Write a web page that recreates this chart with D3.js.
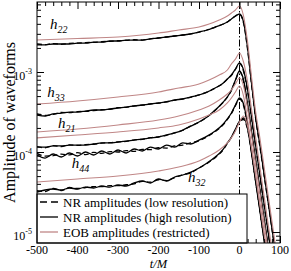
<!DOCTYPE html>
<html>
<head>
<meta charset="utf-8">
<script src="https://cdn.jsdelivr.net/npm/d3@7"></script>
<style>
  body { margin: 0; background: #fff; }
  text { font-family: "Liberation Serif", "Times New Roman", serif; fill: #000; }
</style>
</head>
<body>
<svg id="chart" width="291" height="271"></svg>
<script>
// time samples (t/M)
const tEOB = [-500, -400, -300, -200, -150, -100, -75, -50, -30, -20, -10, 0, 10, 20, 30, 40, 50, 60, 70, 80, 90];
const tNR = [-500, -480, -460, -440, -420, -400, -380, -360, -340, -320, -300, -280, -260, -240, -220, -200,
  -180, -160, -140, -120, -100, -80, -60, -40, -30, -20, -10, 0, 10, 20, 30, 40, 50, 60, 70, 80, 90];

// EOB amplitudes (restricted)
const eob22 = [2.51e-3, 2.62e-3, 2.74e-3, 3.07e-3, 3.35e-3, 3.65e-3, 3.98e-3, 4.47e-3, 5.01e-3, 5.46e-3, 5.96e-3, 6.68e-3, 5.01e-3, 2.37e-3, 8.4e-4, 3.16e-4, 1.54e-4, 6.9e-5, 3.07e-5, 1.37e-5, 6.1e-6];
const eob33 = [3.98e-4, 4.34e-4, 4.87e-4, 5.62e-4, 6.31e-4, 7.08e-4, 7.94e-4, 9.17e-4, 1.06e-3, 1.26e-3, 1.45e-3, 1.73e-3, 1.33e-3, 7.5e-4, 3.35e-4, 1.5e-4, 6.68e-5, 2.99e-5, 1.33e-5, 5.96e-6, 2.66e-6];
const eob21 = [1.78e-4, 1.94e-4, 2.18e-4, 2.51e-4, 2.82e-4, 3.35e-4, 3.76e-4, 4.47e-4, 5.31e-4, 5.96e-4, 7.08e-4, 8.41e-4, 6.68e-4, 3.55e-4, 1.58e-4, 7.08e-5, 3.16e-5, 1.41e-5, 6.31e-6, 2.82e-6, 1.26e-6];
const eob44 = [1.5e-4, 1.63e-4, 1.78e-4, 2.0e-4, 2.18e-4, 2.59e-4, 2.9e-4, 3.35e-4, 4.1e-4, 4.73e-4, 5.62e-4, 6.68e-4, 5.01e-4, 2.51e-4, 1.12e-4, 5.01e-5, 2.24e-5, 1.0e-5, 4.47e-6, 2.0e-6, 8.9e-7];
const eob32 = [4.22e-5, 4.6e-5, 5.01e-5, 5.79e-5, 6.49e-5, 7.72e-5, 8.91e-5, 1.06e-4, 1.3e-4, 1.5e-4, 1.83e-4, 2.37e-4, 2.82e-4, 2.11e-4, 1.12e-4, 5.31e-5, 2.37e-5, 1.06e-5, 4.73e-6, 2.11e-6, 9.4e-7];

// NR amplitudes (high resolution)
const hi22 = [2.18e-3, 2.18e-3, 2.24e-3, 2.24e-3, 2.24e-3, 2.3e-3, 2.3e-3, 2.37e-3, 2.37e-3, 2.44e-3, 2.44e-3, 2.51e-3, 2.51e-3, 2.51e-3, 2.59e-3, 2.66e-3, 2.74e-3, 2.82e-3, 2.9e-3, 2.99e-3, 3.16e-3, 3.35e-3, 3.65e-3, 3.98e-3, 4.22e-3, 4.6e-3, 5.01e-3, 5.31e-3, 4.22e-3, 2.0e-3, 7.08e-4, 2.66e-4, 1.26e-4, 5.62e-5, 2.51e-5, 1.12e-5, 5.01e-6];
const hi33 = [2.9e-4, 2.82e-4, 2.99e-4, 3.07e-4, 3.16e-4, 3.16e-4, 3.25e-4, 3.35e-4, 3.35e-4, 3.45e-4, 3.55e-4, 3.65e-4, 3.76e-4, 3.87e-4, 3.98e-4, 4.1e-4, 4.22e-4, 4.47e-4, 4.6e-4, 4.87e-4, 5.16e-4, 5.62e-4, 6.31e-4, 7.29e-4, 8.18e-4, 9.17e-4, 1.09e-3, 1.3e-3, 1.06e-3, 5.96e-4, 2.66e-4, 1.19e-4, 5.31e-5, 2.37e-5, 1.06e-5, 4.73e-6, 2.11e-6];
const hi21 = [1.15e-4, 1.15e-4, 1.19e-4, 1.19e-4, 1.22e-4, 1.22e-4, 1.22e-4, 1.26e-4, 1.3e-4, 1.3e-4, 1.33e-4, 1.37e-4, 1.41e-4, 1.45e-4, 1.5e-4, 1.54e-4, 1.63e-4, 1.73e-4, 1.88e-4, 2.11e-4, 2.37e-4, 2.74e-4, 3.35e-4, 4.22e-4, 4.87e-4, 5.96e-4, 7.94e-4, 1.03e-3, 7.94e-4, 3.98e-4, 1.78e-4, 7.94e-5, 3.55e-5, 1.58e-5, 7.08e-6, 3.16e-6, 1.41e-6];
const hi44 = [9.17e-5, 8.41e-5, 9.44e-5, 8.66e-5, 9.72e-5, 8.91e-5, 1.0e-4, 9.17e-5, 1.03e-4, 9.44e-5, 1.06e-4, 9.72e-5, 1.09e-4, 1.03e-4, 1.15e-4, 1.09e-4, 1.22e-4, 1.15e-4, 1.3e-4, 1.26e-4, 1.41e-4, 1.58e-4, 1.83e-4, 2.24e-4, 2.59e-4, 3.07e-4, 3.87e-4, 4.73e-4, 3.98e-4, 2.24e-4, 1.0e-4, 4.47e-5, 2.0e-5, 8.91e-6, 3.98e-6, 1.78e-6, 7.94e-7];
const hi32 = [3.16e-5, 3.35e-5, 3.45e-5, 3.35e-5, 3.55e-5, 3.45e-5, 3.65e-5, 3.55e-5, 3.76e-5, 3.65e-5, 3.87e-5, 3.76e-5, 4.1e-5, 4.34e-5, 4.1e-5, 4.6e-5, 4.34e-5, 4.87e-5, 5.16e-5, 5.62e-5, 6.31e-5, 7.29e-5, 8.66e-5, 1.09e-4, 1.3e-4, 1.54e-4, 1.94e-4, 2.44e-4, 2.66e-4, 2.0e-4, 1.0e-4, 4.47e-5, 2.0e-5, 8.91e-6, 3.98e-6, 1.78e-6, 7.94e-7];

// NR amplitudes (low resolution)
const lo22 = [2.24e-3, 2.2e-3, 2.27e-3, 2.22e-3, 2.28e-3, 2.3e-3, 2.33e-3, 2.35e-3, 2.39e-3, 2.42e-3, 2.46e-3, 2.49e-3, 2.53e-3, 2.51e-3, 2.6e-3, 2.66e-3, 2.74e-3, 2.82e-3, 2.9e-3, 2.99e-3, 3.16e-3, 3.35e-3, 3.65e-3, 3.98e-3, 4.22e-3, 4.6e-3, 5.01e-3, 5.25e-3, 4.1e-3, 1.9e-3, 6.8e-4, 2.6e-4, 1.2e-4, 5.4e-5, 2.5e-5, 1.1e-5, 5.0e-6];
const lo33 = [3.0e-4, 2.86e-4, 2.95e-4, 3.12e-4, 3.1e-4, 3.2e-4, 3.22e-4, 3.3e-4, 3.38e-4, 3.42e-4, 3.58e-4, 3.62e-4, 3.78e-4, 3.85e-4, 4.0e-4, 4.08e-4, 4.25e-4, 4.45e-4, 4.62e-4, 4.85e-4, 5.18e-4, 5.6e-4, 6.3e-4, 7.25e-4, 8.15e-4, 9.1e-4, 1.08e-3, 1.28e-3, 1.02e-3, 5.7e-4, 2.55e-4, 1.15e-4, 5.1e-5, 2.3e-5, 1.03e-5, 4.6e-6, 2.0e-6];
const lo21 = [1.17e-4, 1.13e-4, 1.2e-4, 1.17e-4, 1.23e-4, 1.21e-4, 1.24e-4, 1.25e-4, 1.29e-4, 1.31e-4, 1.34e-4, 1.36e-4, 1.42e-4, 1.44e-4, 1.51e-4, 1.55e-4, 1.62e-4, 1.74e-4, 1.87e-4, 2.12e-4, 2.36e-4, 2.75e-4, 3.33e-4, 4.2e-4, 4.85e-4, 5.9e-4, 7.8e-4, 1.01e-3, 7.6e-4, 3.8e-4, 1.7e-4, 7.6e-5, 3.4e-5, 1.5e-5, 6.8e-6, 3.0e-6, 1.35e-6];
const lo44 = [9.6e-5, 8.9e-5, 9.0e-5, 9.4e-5, 9.2e-5, 9.8e-5, 9.3e-5, 9.9e-5, 9.6e-5, 1.01e-4, 1.0e-4, 1.04e-4, 1.02e-4, 1.08e-4, 1.07e-4, 1.13e-4, 1.12e-4, 1.19e-4, 1.22e-4, 1.3e-4, 1.38e-4, 1.55e-4, 1.8e-4, 2.2e-4, 2.55e-4, 3.02e-4, 3.8e-4, 4.6e-4, 3.8e-4, 2.1e-4, 9.5e-5, 4.2e-5, 1.9e-5, 8.5e-6, 3.8e-6, 1.7e-6, 7.6e-7];
const lo32 = [3.3e-5, 3.2e-5, 3.5e-5, 3.3e-5, 3.6e-5, 3.5e-5, 3.6e-5, 3.7e-5, 3.7e-5, 3.8e-5, 3.8e-5, 3.9e-5, 4.0e-5, 4.3e-5, 4.2e-5, 4.5e-5, 4.4e-5, 4.8e-5, 5.2e-5, 5.5e-5, 6.3e-5, 7.2e-5, 8.5e-5, 1.07e-4, 1.28e-4, 1.52e-4, 1.9e-4, 2.4e-4, 2.55e-4, 1.9e-4, 9.4e-5, 4.2e-5, 1.9e-5, 8.4e-6, 3.8e-6, 1.7e-6, 7.5e-7];

const modes = ["22", "33", "21", "44", "32"];
// where each h_lm label sits, in data coordinates [t, amplitude]
const modeLabelAt = [[-468, 3.45e-3], [-475, 4.87e-4], [-448, 2.0e-4], [-414, 6.31e-5], [-127, 4.22e-5]];
const xTicks = [-500, -400, -300, -200, -100, 0, 100];
const yTicks = [1e-5, 1e-4, 1e-3];
const yExponents = ["-5", "-4", "-3"];
const legendLabels = ["NR amplitudes (low resolution)", "NR amplitudes (high resolution)", "EOB amplitudes (restricted)"];

const eobColor = "#c08787";
const margin = { top: 2, right: 11, bottom: 28, left: 37 };
const W = 291, H = 271;

const svg = d3.select("#chart");

const x = d3.scaleLinear().domain([-500, 100]).range([margin.left, W - margin.right]);
const y = d3.scaleLog().domain([7.29e-6, 7.5e-3]).range([H - margin.bottom, margin.top]);

svg.append("defs").append("clipPath").attr("id", "plotClip")
  .append("rect")
  .attr("x", margin.left).attr("y", margin.top)
  .attr("width", W - margin.left - margin.right)
  .attr("height", H - margin.top - margin.bottom);

const plot = svg.append("g").attr("clip-path", "url(#plotClip)");

const line = d3.line()
  .x(d => x(d[0]))
  .y(d => y(d[1]))
  .curve(d3.curveMonotoneX);

const zipT = (ts, vs) => ts.map((t, i) => [t, vs[i]]);

const loRes = [lo22, lo33, lo21, lo44, lo32];
const hiRes = [hi22, hi33, hi21, hi44, hi32];
const eobs = [eob22, eob33, eob21, eob44, eob32];

// peak marker t = 0
plot.append("line")
  .attr("x1", x(0)).attr("x2", x(0))
  .attr("y1", margin.top).attr("y2", H - margin.bottom)
  .attr("stroke", "#000")
  .attr("stroke-width", 1)
  .attr("stroke-dasharray", "7,2,1.5,2");

plot.append("g").selectAll("path")
  .data(loRes)
  .join("path")
  .attr("d", d => line(zipT(tNR, d)))
  .attr("fill", "none")
  .attr("stroke", "#000")
  .attr("stroke-width", 1.3)
  .attr("stroke-dasharray", "5,3");

plot.append("g").selectAll("path")
  .data(hiRes)
  .join("path")
  .attr("d", d => line(zipT(tNR, d)))
  .attr("fill", "none")
  .attr("stroke", "#000")
  .attr("stroke-width", 1.3);

plot.append("g").selectAll("path")
  .data(eobs)
  .join("path")
  .attr("d", d => line(zipT(tEOB, d)))
  .attr("fill", "none")
  .attr("stroke", eobColor)
  .attr("stroke-width", 1.1);

// mode labels
const lbl = svg.append("g").selectAll("text")
  .data(modes)
  .join("text")
  .attr("x", (d, i) => x(modeLabelAt[i][0]))
  .attr("y", (d, i) => y(modeLabelAt[i][1]))
  .attr("font-size", 15)
  .attr("font-style", "italic");
lbl.append("tspan").text("h");
lbl.append("tspan").attr("font-size", 10).attr("dy", 4).text(d => d);

// axes, ticks drawn inward on all four sides
const xMinor = d3.range(-500, 101, 20).filter(v => v % 100 !== 0);
const yMinor = y.ticks().filter(v => !yTicks.some(t => Math.abs(t - v) / t < 1e-6));
const plotBottom = H - margin.bottom, plotRight = W - margin.right;

function tickAxis(axisFn, scale, values, size, transform) {
  const g = svg.append("g")
    .attr("transform", transform)
    .call(axisFn(scale).tickValues(values).tickSize(-size).tickFormat(""));
  g.select(".domain").remove();
  g.selectAll("line").attr("stroke", "#000");
  return g;
}
tickAxis(d3.axisBottom, x, xTicks, 7, "translate(0," + plotBottom + ")");
tickAxis(d3.axisBottom, x, xMinor, 4, "translate(0," + plotBottom + ")");
tickAxis(d3.axisTop, x, xTicks, 7, "translate(0," + margin.top + ")");
tickAxis(d3.axisTop, x, xMinor, 4, "translate(0," + margin.top + ")");
tickAxis(d3.axisLeft, y, yTicks, 7, "translate(" + margin.left + ",0)");
tickAxis(d3.axisLeft, y, yMinor, 4, "translate(" + margin.left + ",0)");
tickAxis(d3.axisRight, y, yTicks, 7, "translate(" + plotRight + ",0)");
tickAxis(d3.axisRight, y, yMinor, 4, "translate(" + plotRight + ",0)");

// x tick labels
svg.append("g").selectAll("text")
  .data(xTicks)
  .join("text")
  .attr("x", d => x(d))
  .attr("y", plotBottom + 11)
  .attr("text-anchor", "middle")
  .attr("font-size", 12)
  .text(d => String(d));

// y tick labels 10^n
const yl = svg.append("g").selectAll("text")
  .data(yTicks)
  .join("text")
  .attr("x", margin.left - 5)
  .attr("y", d => y(d) + 8)
  .attr("text-anchor", "end")
  .attr("font-size", 12);
yl.append("tspan").text("10");
yl.append("tspan").attr("font-size", 8).attr("dy", -6).text((d, i) => yExponents[i]);

// axis titles
svg.append("text")
  .attr("x", (margin.left + plotRight) / 2)
  .attr("y", H - 3)
  .attr("text-anchor", "middle")
  .attr("font-size", 12.5)
  .attr("font-style", "italic")
  .text("t/M");

svg.append("text")
  .attr("transform", "translate(15," + (margin.top + plotBottom) / 2 + ") rotate(-90)")
  .attr("text-anchor", "middle")
  .attr("font-size", 16)
  .text("Amplitude of waveforms");

// legend
const legend = svg.append("g");
legend.append("rect")
  .attr("x", margin.left).attr("y", 194)
  .attr("width", 210).attr("height", plotBottom - 194)
  .attr("fill", "#fff")
  .attr("stroke", "#000")
  .attr("stroke-width", 1);
const legendStyles = [
  { stroke: "#000", dash: "7,4" },
  { stroke: "#000", dash: null },
  { stroke: eobColor, dash: null }
];
legendLabels.forEach((label, i) => {
  const ly = 202 + i * 15;
  legend.append("line")
    .attr("x1", margin.left + 3).attr("x2", margin.left + 21)
    .attr("y1", ly).attr("y2", ly)
    .attr("stroke", legendStyles[i].stroke)
    .attr("stroke-width", 1.3)
    .attr("stroke-dasharray", legendStyles[i].dash);
  legend.append("text")
    .attr("x", margin.left + 26)
    .attr("y", ly + 4.5)
    .attr("font-size", 13)
    .text(label);
});

// frame
svg.append("rect")
  .attr("x", margin.left).attr("y", margin.top)
  .attr("width", plotRight - margin.left)
  .attr("height", plotBottom - margin.top)
  .attr("fill", "none")
  .attr("stroke", "#000")
  .attr("stroke-width", 1);
</script>
</body>
</html>
